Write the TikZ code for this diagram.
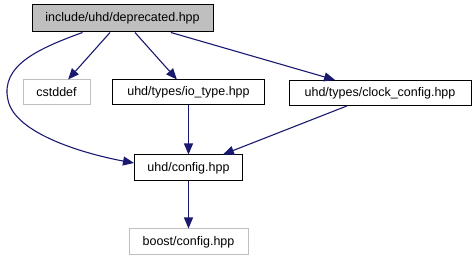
\documentclass[tikz,border=0pt]{standalone}
\usepackage{fontspec}
\setmainfont{Liberation Sans}
\definecolor{edgeblue}{RGB}{25,25,112}
\definecolor{nodegray}{RGB}{191,191,191}
\usetikzlibrary{arrows.meta}

\begin{document}
\begin{tikzpicture}[x=1pt,y=-1pt,
    file/.style={draw=black,line width=1pt,inner sep=0pt,font=\fontsize{12.5}{14}\selectfont,minimum height=25pt},
    extfile/.style={file,draw=nodegray},
    dep/.style={draw=edgeblue,line width=1.1pt,-{Triangle[length=11pt,width=9pt]}}]
  \useasboundingbox (0,0) rectangle (475,261);

  % Files
  \node[file,fill=nodegray,minimum width=181pt,minimum height=27pt] (deprecated) at (122.5,18.5) {include/uhd/deprecated.hpp};
  \node[extfile,minimum width=67pt] (cstddef) at (56.5,92.5) {cstddef};
  \node[file,minimum width=152pt] (iotype) at (188.5,92.5) {uhd/types/io\_type.hpp};
  \node[file,minimum width=182pt] (clockcfg) at (380,93) {uhd/types/clock\_config.hpp};
  \node[file,minimum width=108pt,minimum height=26pt] (config) at (188.5,168) {uhd/config.hpp};
  \node[extfile,minimum width=119pt,minimum height=26pt] (boostcfg) at (188.5,242) {boost/config.hpp};

  % Includes
  \draw[dep] (deprecated) -- (cstddef);
  \draw[dep] (deprecated) -- (iotype);
  \draw[dep] (deprecated) -- (clockcfg);
  \draw[dep] ([xshift=51pt]deprecated.south west) .. controls (40,48) and (0,65) .. (8,100)
    .. controls (15,135) and (90,155) .. ([yshift=5pt]config.west);
  \draw[dep] (iotype) -- (config);
  \draw[dep] (clockcfg) -- (config);
  \draw[dep] (config) -- (boostcfg);
\end{tikzpicture}
\end{document}
